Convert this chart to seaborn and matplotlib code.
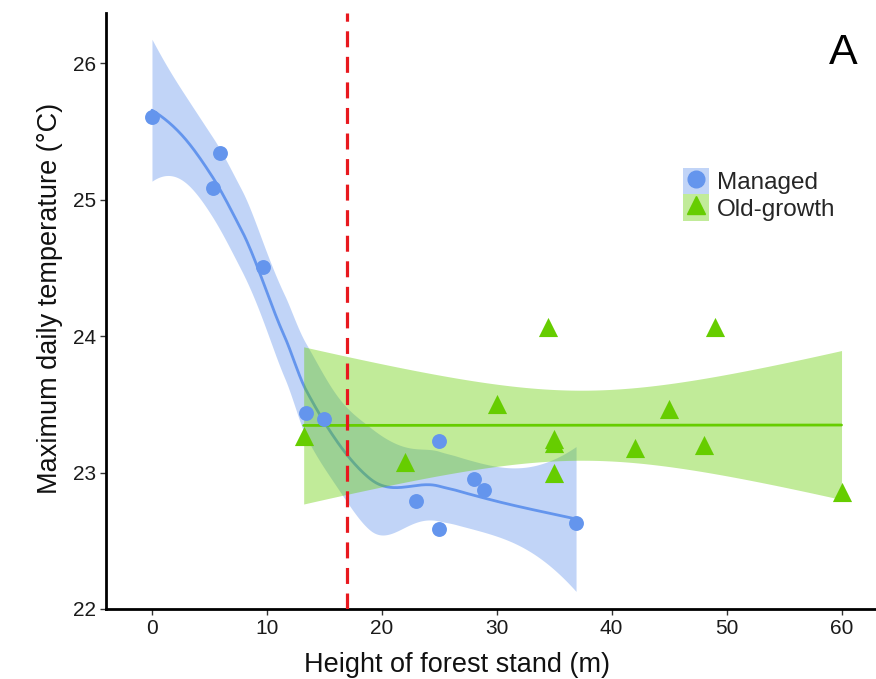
import math
import numpy as np
import pandas as pd
import matplotlib
matplotlib.use("Agg")
import matplotlib.pyplot as plt
from matplotlib.patches import Patch
from matplotlib.lines import Line2D
import seaborn as sns

# Stand height (m) and maximum daily temperature (°C) per plot
managed_height = [0.0, 5.3, 5.9, 9.65, 13.4, 15.0, 23.0, 25.0, 25.0, 28.0, 28.9, 36.9]
managed_temp = [25.61, 25.09, 25.34, 24.51, 23.44, 23.39, 22.79, 23.23, 22.59, 22.95, 22.87, 22.63]

oldgrowth_height = [13.2, 22.0, 30.0, 34.5, 35.0, 35.0, 35.0, 42.0, 45.0, 48.0, 49.0, 60.0]
oldgrowth_temp = [23.27, 23.08, 23.50, 24.07, 23.25, 23.22, 23.00, 23.18, 23.47, 23.20, 24.07, 22.86]

threshold_height = 17
x_ticks = [0, 10, 20, 30, 40, 50, 60]
y_ticks = [22, 23, 24, 25, 26]

BLUE = "#6495ED"
GREEN = "#66CD00"


def t_quantile(p, df):
    """Student t quantile by bisection on a numerically integrated CDF."""
    c = math.exp(math.lgamma((df + 1) / 2) - math.lgamma(df / 2)) / math.sqrt(df * math.pi)

    def cdf(t):
        xs = np.linspace(0, t, 4001)
        pdf = c * (1 + xs ** 2 / df) ** (-(df + 1) / 2)
        return 0.5 + np.trapezoid(pdf, xs)

    lo, hi = 0.0, 20.0
    for _ in range(80):
        mid = (lo + hi) / 2
        if cdf(mid) < p:
            lo = mid
        else:
            hi = mid
    return (lo + hi) / 2


def local_operator(x, x0, span=0.75, degree=2):
    """Rows mapping y to the local quadratic's value and slope at x0."""
    n = len(x)
    q = min(n, int(np.floor(n * span)))
    dist = np.abs(x - x0)
    d = np.sort(dist)[q - 1] * max(1.0, span)
    u = np.clip(dist / d, 0, 1)
    w = (1 - u ** 3) ** 3
    X = np.vander(x - x0, degree + 1, increasing=True)
    XtW = X.T * w
    B = np.linalg.solve(XtW @ X, XtW)
    return B[0], B[1]


def kd_vertices(x, fc):
    """Cell boundaries from recursive median splits (loess kd tree)."""
    xs = np.sort(x)
    rng = xs[-1] - xs[0]
    verts = {xs[0] - 0.005 * rng, xs[-1] + 0.005 * rng}

    def split(pts):
        if len(pts) <= fc or pts[-1] == pts[0]:
            return
        m = (len(pts) - 1) // 2
        t = (pts[m] + pts[m + 1]) / 2 if len(pts) % 2 == 0 else pts[m]
        verts.add(t)
        left = pts[pts <= t] if len(pts) % 2 else pts[: m + 1]
        right = pts[pts > t] if len(pts) % 2 else pts[m + 1:]
        if len(left) == len(pts) or len(right) == len(pts):
            return
        split(left)
        split(right)

    split(xs)
    return np.array(sorted(verts))


def interp_operator(x, grid, span=0.75, cell=0.2):
    """Cubic Hermite interpolation of the local operator between vertices."""
    n = len(x)
    fc = int(np.floor(n * span * cell))
    v = kd_vertices(x, fc)
    vals, slopes = zip(*(local_operator(x, vi, span) for vi in v))
    vals, slopes = np.array(vals), np.array(slopes)
    rows = []
    for g in grid:
        k = int(np.clip(np.searchsorted(v, g) - 1, 0, len(v) - 2))
        h = v[k + 1] - v[k]
        t = (g - v[k]) / h
        h00 = 2 * t ** 3 - 3 * t ** 2 + 1
        h10 = t ** 3 - 2 * t ** 2 + t
        h01 = -2 * t ** 3 + 3 * t ** 2
        h11 = t ** 3 - t ** 2
        rows.append(h00 * vals[k] + h10 * h * slopes[k] + h01 * vals[k + 1] + h11 * h * slopes[k + 1])
    return np.array(rows)


def loess_fit(x, y, grid, span=0.75, level=0.95):
    """Local quadratic smooth with a t-based pointwise confidence band."""
    x = np.asarray(x, float)
    y = np.asarray(y, float)
    n = len(x)
    L = interp_operator(x, x, span)
    resid = y - L @ y
    M = (np.eye(n) - L).T @ (np.eye(n) - L)
    one_delta = np.trace(M)
    two_delta = np.trace(M @ M)
    s = math.sqrt(np.sum(resid ** 2) / one_delta)
    df = one_delta ** 2 / two_delta
    tq = t_quantile(0.5 + level / 2, df)
    rows = interp_operator(x, grid, span)
    fit = rows @ y
    se = s * np.sqrt(np.sum(rows ** 2, axis=1))
    return fit, fit - tq * se, fit + tq * se


def lm_fit(x, y, grid, level=0.95):
    """Straight-line fit with a t-based pointwise confidence band."""
    x = np.asarray(x, float)
    y = np.asarray(y, float)
    n = len(x)
    b, a = np.polyfit(x, y, 1)
    resid = y - (a + b * x)
    s = math.sqrt(np.sum(resid ** 2) / (n - 2))
    xbar = x.mean()
    sxx = np.sum((x - xbar) ** 2)
    fit = a + b * grid
    se = s * np.sqrt(1 / n + (grid - xbar) ** 2 / sxx)
    tq = t_quantile(0.5 + level / 2, n - 2)
    return fit, fit - tq * se, fit + tq * se


sns.set_theme(style="ticks")
plt.rcParams["font.family"] = ["Liberation Sans", "DejaVu Sans"]

fig = plt.figure(figsize=(8.76, 6.79), dpi=100)
ax = fig.add_axes([106 / 876, 70 / 679, 770 / 876, 596 / 679])

# Smoothed fits with 95% confidence bands
grid_m = np.linspace(min(managed_height), max(managed_height), 300)
fit_m, lo_m, hi_m = loess_fit(managed_height, managed_temp, grid_m)
grid_o = np.linspace(min(oldgrowth_height), max(oldgrowth_height), 200)
fit_o, lo_o, hi_o = lm_fit(oldgrowth_height, oldgrowth_temp, grid_o)

ax.fill_between(grid_m, lo_m, hi_m, color=BLUE, alpha=0.4, linewidth=0, zorder=1)
sns.lineplot(x=grid_m, y=fit_m, ax=ax, color=BLUE, linewidth=2.0, zorder=2)
ax.fill_between(grid_o, lo_o, hi_o, color=GREEN, alpha=0.4, linewidth=0, zorder=3)
sns.lineplot(x=grid_o, y=fit_o, ax=ax, color=GREEN, linewidth=2.0, zorder=4)

# Observed plots
df_m = pd.DataFrame({"height": managed_height, "temp": managed_temp})
df_o = pd.DataFrame({"height": oldgrowth_height, "temp": oldgrowth_temp})
sns.scatterplot(data=df_m, x="height", y="temp", ax=ax, color=BLUE, marker="o",
                s=115, linewidth=0, zorder=5)
sns.scatterplot(data=df_o, x="height", y="temp", ax=ax, color=GREEN, marker="^",
                s=190, linewidth=0, zorder=5)

# Stand-height threshold
ax.axvline(threshold_height, color="#E8181E", linewidth=2.3, dashes=(5, 3), zorder=6)

ax.set_xlim(-4, 63)
ax.set_ylim(22, 26.37)
ax.set_xticks(x_ticks)
ax.set_yticks(y_ticks)
ax.tick_params(axis="both", labelsize=15, length=4, width=1, color="#333333",
               labelcolor="#1a1a1a", pad=3)
ax.set_xlabel("Height of forest stand (m)", fontsize=19.5, color="#111111", va="top")
ax.xaxis.set_label_coords((457 - 106) / 770, -(652 - 609) / 596)
ax.set_ylabel("Maximum daily temperature (°C)", fontsize=19.5, color="#111111")
ax.yaxis.set_label_coords(-(106 - 63) / 770, (609 - 298.5) / 596)
for side in ("top", "right"):
    ax.spines[side].set_visible(False)
for side in ("left", "bottom"):
    ax.spines[side].set_linewidth(2.0)
    ax.spines[side].set_color("black")

fig.text(858 / 876, 1 - 33 / 679, "A", fontsize=31, ha="right", va="top", color="black")

handles = [
    (Patch(facecolor=BLUE, alpha=0.4, edgecolor="none"),
     Line2D([], [], marker="o", color=BLUE, linestyle="none", markersize=12)),
    (Patch(facecolor=GREEN, alpha=0.4, edgecolor="none"),
     Line2D([], [], marker="^", color=GREEN, linestyle="none", markersize=13)),
]
leg = ax.legend(handles, ["Managed", "Old-growth"], loc="upper left",
                bbox_to_anchor=((683 - 106) / 770, (609 - 168) / 596), frameon=False,
                fontsize=17.5, handlelength=1.05, handleheight=1.3, handletextpad=0.35,
                labelspacing=0.0, borderpad=0.0, borderaxespad=0.0)

fig.savefig("out.png", dpi=100)
